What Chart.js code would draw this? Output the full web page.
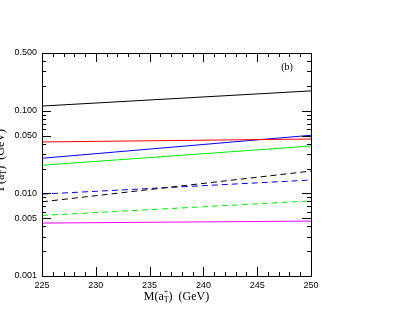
<!DOCTYPE html>
<html>
<head>
<meta charset="utf-8">
<script src="https://cdn.jsdelivr.net/npm/chart.js@4"></script>
<style>
  html,body{margin:0;padding:0;background:#fff;}
  #wrap{width:399px;height:309px;position:relative;}
</style>
</head>
<body>
<div id="wrap"><canvas id="c" width="399" height="309"></canvas></div>
<script>
// masses (GeV)
const masses = [225, 250];
// widths (GeV)
const blackSolid  = [0.114, 0.174];
const redSolid    = [0.0419, 0.0455];
const blueSolid   = [0.0266, 0.0505];
const greenSolid  = [0.0219, 0.0374];
const blackDashed = [0.0079, 0.0186];
const blueDashed  = [0.0098, 0.0145];
const greenDashed = [0.0054, 0.0081];
const magenta     = [0.00437, 0.00462];

const yTicks = [0.001, 0.005, 0.01, 0.05, 0.1, 0.5];
const xTicks = [225, 230, 235, 240, 245, 250];

function series(vals, color, dashed){
  return {
    data: masses.map((m,i)=>({x:m, y:vals[i]})),
    borderColor: color, borderWidth: 1, pointRadius: 0,
    borderDash: dashed ? [6,4] : [], tension: 0, fill: false
  };
}

// inward ticks on all four sides + frame + texts
const framePlugin = {
  id:'frame',
  afterDraw(chart){
    const ctx = chart.ctx, a = chart.chartArea;
    const xs = chart.scales.x, ys = chart.scales.y;
    ctx.save();
    ctx.strokeStyle = '#000'; ctx.lineWidth = 1;
    ctx.strokeRect(a.left+0.5, a.top+0.5, a.right-a.left, a.bottom-a.top);
    ctx.beginPath();
    for(let v=225; v<=250; v++){
      const px = Math.round(xs.getPixelForValue(v))+0.5;
      const len = v%5===0 ? 9 : 4;
      if(v===225||v===250) continue;
      ctx.moveTo(px, a.bottom); ctx.lineTo(px, a.bottom-len);
      ctx.moveTo(px, a.top); ctx.lineTo(px, a.top+len);
    }
    for(let d=-3; d<=-1; d++){
      for(let k=1; k<=9; k++){
        const v = k*Math.pow(10,d);
        if(v<0.001 || v>0.5) continue;
        const py = Math.round(ys.getPixelForValue(v))+0.5;
        const len = (k===1||k===5) ? 9 : 4;
        ctx.moveTo(a.left, py); ctx.lineTo(a.left+len, py);
        ctx.moveTo(a.right, py); ctx.lineTo(a.right-len, py);
      }
    }
    ctx.stroke();

    // axis titles
    ctx.fillStyle = '#000';
    const big = '12px "Liberation Serif", "DejaVu Serif", serif';
    const small = '8px "Liberation Serif", "DejaVu Serif", serif';
    function drawLabel(x, y, head){
      ctx.font = big;
      const w1 = ctx.measureText(head+'(a').width;
      ctx.font = small;
      const w2 = ctx.measureText('T').width;
      ctx.font = big;
      const w3 = ctx.measureText(')  (GeV)').width;
      let cx = x - (w1+w2+w3)/2;
      ctx.textAlign = 'left'; ctx.textBaseline = 'alphabetic';
      ctx.font = big; ctx.fillText(head+'(a', cx, y); cx += w1;
      ctx.font = small; ctx.fillText('T', cx, y+2); ctx.fillText('+', cx, y-6); cx += w2;
      ctx.font = big; ctx.fillText(')  (GeV)', cx, y);
    }
    drawLabel((a.left+a.right)/2, 300, 'M');
    ctx.save();
    ctx.translate(4, 160);
    ctx.rotate(-Math.PI/2);
    drawLabel(0, 0, 'Γ');
    ctx.restore();

    ctx.font = '10px "Liberation Serif", "DejaVu Serif", serif';
    ctx.textAlign = 'center'; ctx.textBaseline = 'middle';
    ctx.fillText('(b)', 287, 67);
    ctx.restore();
  }
};

new Chart(document.getElementById('c'), {
  type:'line',
  data:{ datasets:[
    series(blackSolid, '#000000', false),
    series(redSolid, '#ff0000', false),
    series(blueSolid, '#0000ff', false),
    series(greenSolid, '#00ee00', false),
    series(blackDashed, '#000000', true),
    series(blueDashed, '#0000ff', true),
    series(greenDashed, '#00ee00', true),
    series(magenta, '#ff00ff', false)
  ]},
  options:{
    responsive:false, animation:false,
    layout:{ padding:{ left:0, top:53, right:88, bottom:0 } },
    plugins:{ legend:{display:false}, tooltip:{enabled:false} },
    scales:{
      x:{
        type:'linear', min:225, max:250,
        afterBuildTicks: s => { s.ticks = xTicks.map(v=>({value:v})); },
        afterFit: s => { s.height = 33; },
        grid:{ display:false, drawTicks:false },
        border:{ display:false },
        ticks:{ padding:4, color:'#000', maxRotation:0,
          font:{ family:'"Liberation Sans", Arial, sans-serif', size:9 } }
      },
      y:{
        type:'logarithmic', min:0.001, max:0.5,
        afterBuildTicks: s => { s.ticks = yTicks.map(v=>({value:v})); },
        afterFit: s => { s.width = 42; },
        grid:{ display:false, drawTicks:false },
        border:{ display:false },
        ticks:{ padding:5, color:'#000', callback: v => Number(v).toFixed(3),
          font:{ family:'"Liberation Sans", Arial, sans-serif', size:9 } }
      }
    }
  },
  plugins:[framePlugin]
});
</script>
</body>
</html>
